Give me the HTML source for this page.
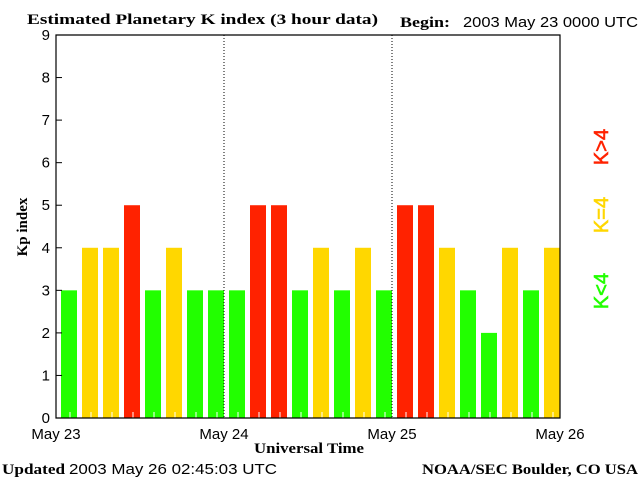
<!DOCTYPE html>
<html><head><meta charset="utf-8"><style>
body{margin:0;background:#fff;}
svg{display:block;}
.s{font-family:"Liberation Sans",sans-serif;font-size:15px;}
.b{font-family:"Liberation Serif",serif;font-weight:bold;font-size:15px;}
</style></head><body>
<svg width="640" height="480" xmlns="http://www.w3.org/2000/svg">
<g id="chart"></g>
</svg>
<script>
const values=[3,4,4,5,3,4,3,3, 3,5,5,3,4,3,4,3, 5,5,4,3,2,4,3,4];
const yTicks=[0,1,2,3,4,5,6,7,8,9];
const dayLabels=["May 23","May 24","May 25","May 26"];
const X0=56,X1=560,Y0=418,Y9=35;
const yS=v=>Y0-(Y9-Y0)*-v/9;
const slot=(X1-X0)/values.length;
const g=document.getElementById('chart');
const NS='http://www.w3.org/2000/svg';
function mk(t,a,txt){const e=document.createElementNS(NS,t);for(const k in a)e.setAttribute(k,a[k]);if(txt!==undefined)e.textContent=txt;g.appendChild(e);return e;}
const col=v=>v<4?'#22ff00':(v==4?'#ffd700':'#ff2200');
values.forEach((v,i)=>{
  const x=X0+i*slot+5;
  const r=mk('rect',{x:x,y:yS(v),width:16,height:Y0-yS(v),fill:col(v)});
  
  
  mk('line',{x1:x+9,x2:x+9,y1:Y0-6,y2:Y0,stroke:'#fff','stroke-width':1});
});
const ax=mk('path',{d:`M${X0},${Y9}H${X1}V${Y0}H${X0}Z`,fill:'none',stroke:'#000','stroke-width':1.2});


yTicks.forEach(t=>{
  const y=yS(t);
  mk('line',{x1:X0,x2:X0+6,y1:y,y2:y,stroke:'#000'});
  const l=mk('text',{x:X0-6,y:y+5,'text-anchor':'end',class:'s'},t);
  
  
});
dayLabels.forEach((d,i)=>{
  const x=X0+i*(X1-X0)/3;
  if(i>0&&i<3){mk('line',{x1:x,x2:x,y1:Y9,y2:Y0,stroke:'#000','stroke-dasharray':'1,2'});}
  const l=mk('text',{x:x,y:439,'text-anchor':'middle',class:'s'},d);
  
  
});
</script>
<svg width="640" height="480" style="position:absolute;left:0;top:0" xmlns="http://www.w3.org/2000/svg">
<text x="27" y="24" class="b" textLength="351" lengthAdjust="spacingAndGlyphs">Estimated Planetary K index (3 hour data)</text>
<text x="400" y="27" class="b" textLength="50" lengthAdjust="spacingAndGlyphs">Begin:</text>
<text x="463" y="27" class="s" textLength="175" lengthAdjust="spacingAndGlyphs">2003 May 23 0000 UTC</text>
<text x="254" y="453" class="b" textLength="110" lengthAdjust="spacingAndGlyphs">Universal Time</text>
<text transform="translate(27,227) rotate(-90)" text-anchor="middle" class="b">Kp index</text>
<text x="2" y="474" class="b" textLength="63" lengthAdjust="spacingAndGlyphs">Updated</text>
<text x="69" y="474" class="s" textLength="208" lengthAdjust="spacingAndGlyphs">2003 May 26 02:45:03 UTC</text>
<text x="422" y="474" class="b" textLength="216" lengthAdjust="spacingAndGlyphs">NOAA/SEC Boulder, CO USA</text>
<text transform="translate(608,291) rotate(-90)" text-anchor="middle" class="s" style="font-size:20px" stroke="#22ff00" stroke-width="0.6" fill="#22ff00">K&lt;4</text>
<text transform="translate(608,215) rotate(-90)" text-anchor="middle" class="s" style="font-size:20px" stroke="#ffd700" stroke-width="0.6" fill="#ffd700">K=4</text>
<text transform="translate(608,147) rotate(-90)" text-anchor="middle" class="s" style="font-size:20px" stroke="#ff2200" stroke-width="0.6" fill="#ff2200">K&gt;4</text>
</svg>
</body></html>
